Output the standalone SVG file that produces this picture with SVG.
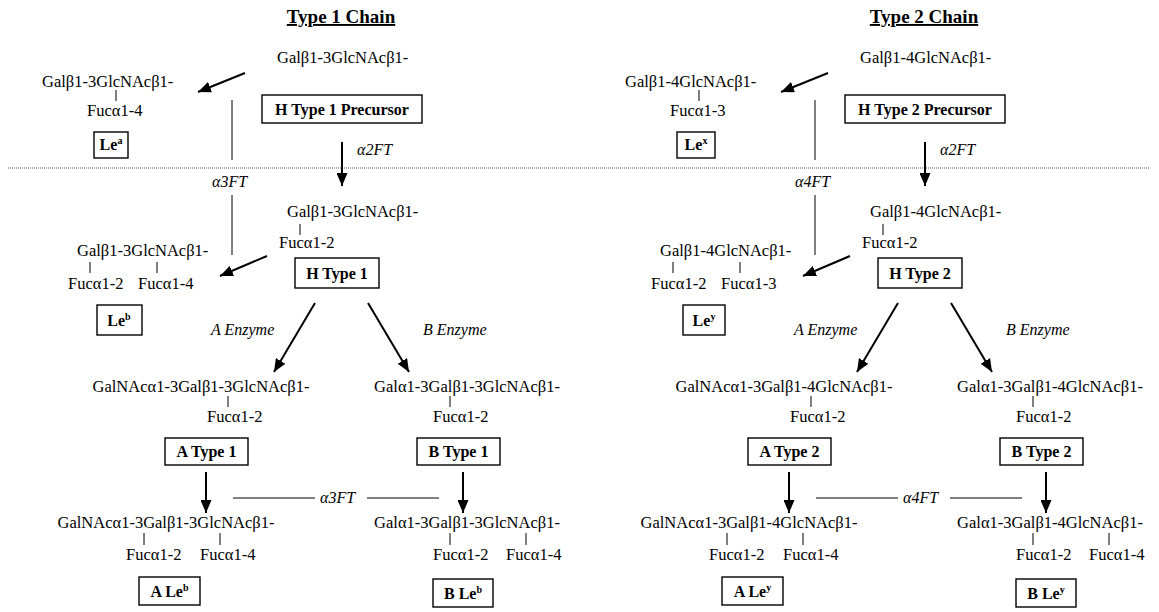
<svg xmlns="http://www.w3.org/2000/svg" width="1159" height="612" viewBox="0 0 1159 612" font-family="'Liberation Serif', serif">
<defs>
<marker id="ah" markerUnits="userSpaceOnUse" markerWidth="13" markerHeight="11" viewBox="0 0 13 11" refX="13" refY="5.5" orient="auto"><path d="M0,0 L13,5.5 L0,11 z" fill="#000"/></marker>
</defs>
<style>
text{font-family:'Liberation Serif',serif;fill:#000}
.s{font-size:16.5px}
.b{font-size:16px;font-weight:bold}
.i{font-size:16px;font-style:italic}
.t{font-size:19px;font-weight:bold;text-decoration:underline}
.m{text-anchor:middle}
.sup{font-size:10px}
.box{fill:#fff;stroke:#000;stroke-width:1.4}
.tk{stroke:#000;stroke-width:1}
.ar{stroke:#000;stroke-width:2;fill:none;marker-end:url(#ah)}
.ln{stroke:#000;stroke-width:1;fill:none}
.dot{stroke:#555;stroke-width:1;stroke-dasharray:1 1}
</style>
<rect width="1159" height="612" fill="#fff"/>

<g id="divider"><line class="dot" x1="8" y1="168" x2="1150" y2="168"/></g>

<g id="connectors-type1">
<line class="ar" x1="245" y1="73" x2="198" y2="92"/>
<line class="ln" x1="232" y1="100" x2="232" y2="160"/>
<line class="ln" x1="232" y1="195" x2="232" y2="255"/>
<text class="i" x="212" y="187">α3FT</text>
<line class="ar" x1="342" y1="142" x2="342" y2="186"/>
<text class="i" x="357" y="155">α2FT</text>
<line class="ar" x1="267" y1="256" x2="220" y2="276"/>
<line class="ar" x1="315" y1="303" x2="274" y2="372"/>
<line class="ar" x1="368" y1="303" x2="409" y2="372"/>
<text class="i" x="211" y="335">A Enzyme</text>
<text class="i" x="423" y="335">B Enzyme</text>
<line class="ar" x1="206" y1="472" x2="206" y2="513"/>
<line class="ar" x1="463" y1="472" x2="463" y2="513"/>
<line class="ln" x1="233" y1="498" x2="315" y2="498"/>
<text class="i" x="320" y="503">α3FT</text>
<line class="ln" x1="367" y1="498" x2="439" y2="498"/>
</g>

<g id="title-type1"><text class="t m" x="341" y="23">Type 1 Chain</text></g>

<g id="node-h-type1-precursor">
<text class="s" x="277" y="63">Galβ1-3GlcNAcβ1-</text>
<rect class="box" x="262" y="95" width="160" height="28"/>
<text class="b m" x="342" y="115">H Type 1 Precursor</text>
</g>

<g id="node-lea">
<text class="s" x="42" y="87">Galβ1-3GlcNAcβ1-</text>
<line class="tk" x1="116" y1="90" x2="116" y2="101"/>
<text class="s" x="87" y="116">Fucα1-4</text>
<rect class="box" x="94" y="132" width="34" height="26"/>
<text class="b m" x="111" y="150">Le<tspan class="sup" dy="-6">a</tspan></text>
</g>

<g id="node-h-type1">
<text class="s" x="287" y="217">Galβ1-3GlcNAcβ1-</text>
<line class="tk" x1="300" y1="224" x2="300" y2="235"/>
<text class="s" x="279" y="248">Fucα1-2</text>
<rect class="box" x="295" y="258" width="84" height="30"/>
<text class="b m" x="337" y="279">H Type 1</text>
</g>

<g id="node-leb">
<text class="s" x="77" y="256">Galβ1-3GlcNAcβ1-</text>
<line class="tk" x1="90" y1="262" x2="90" y2="273"/>
<line class="tk" x1="157" y1="262" x2="157" y2="273"/>
<text class="s" x="68" y="289">Fucα1-2</text>
<text class="s" x="138" y="289">Fucα1-4</text>
<rect class="box" x="97" y="305" width="45" height="30"/>
<text class="b m" x="119" y="326">Le<tspan class="sup" dy="-6">b</tspan></text>
</g>

<g id="node-a-type1">
<text class="s m" x="201" y="392">GalNAcα1-3Galβ1-3GlcNAcβ1-</text>
<line class="tk" x1="228" y1="396" x2="228" y2="407"/>
<text class="s" x="207" y="422">Fucα1-2</text>
<rect class="box" x="165" y="438" width="83" height="27"/>
<text class="b m" x="206.5" y="457">A Type 1</text>
</g>

<g id="node-b-type1">
<text class="s m" x="467" y="392">Galα1-3Galβ1-3GlcNAcβ1-</text>
<line class="tk" x1="450" y1="396" x2="450" y2="407"/>
<text class="s" x="433" y="422">Fucα1-2</text>
<rect class="box" x="417" y="438" width="83" height="27"/>
<text class="b m" x="458.5" y="457">B Type 1</text>
</g>

<g id="node-a-leb">
<text class="s m" x="166" y="528">GalNAcα1-3Galβ1-3GlcNAcβ1-</text>
<line class="tk" x1="144" y1="533" x2="144" y2="545"/>
<line class="tk" x1="220" y1="533" x2="220" y2="545"/>
<text class="s" x="126" y="560">Fucα1-2</text>
<text class="s" x="200" y="560">Fucα1-4</text>
<rect class="box" x="139" y="577" width="61" height="28"/>
<text class="b m" x="169.5" y="597">A Le<tspan class="sup" dy="-6">b</tspan></text>
</g>

<g id="node-b-leb">
<text class="s m" x="467" y="528">Galα1-3Galβ1-3GlcNAcβ1-</text>
<line class="tk" x1="450" y1="533" x2="450" y2="545"/>
<line class="tk" x1="526" y1="533" x2="526" y2="545"/>
<text class="s" x="433" y="560">Fucα1-2</text>
<text class="s" x="506" y="560">Fucα1-4</text>
<rect class="box" x="433" y="579" width="60" height="28"/>
<text class="b m" x="463" y="599">B Le<tspan class="sup" dy="-6">b</tspan></text>
</g>

<g id="connectors-type2">
<g transform="translate(583,0)">
<line class="ar" x1="245" y1="73" x2="198" y2="92"/>
<line class="ln" x1="232" y1="100" x2="232" y2="160"/>
<line class="ln" x1="232" y1="195" x2="232" y2="255"/>
<text class="i" x="212" y="187">α4FT</text>
<line class="ar" x1="342" y1="142" x2="342" y2="186"/>
<text class="i" x="357" y="155">α2FT</text>
<line class="ar" x1="267" y1="256" x2="220" y2="276"/>
<line class="ar" x1="315" y1="303" x2="274" y2="372"/>
<line class="ar" x1="368" y1="303" x2="409" y2="372"/>
<text class="i" x="211" y="335">A Enzyme</text>
<text class="i" x="423" y="335">B Enzyme</text>
<line class="ar" x1="206" y1="472" x2="206" y2="513"/>
<line class="ar" x1="463" y1="472" x2="463" y2="513"/>
<line class="ln" x1="233" y1="498" x2="315" y2="498"/>
<text class="i" x="320" y="503">α4FT</text>
<line class="ln" x1="367" y1="498" x2="439" y2="498"/>
</g>
</g>

<g transform="translate(583,0)">
<g id="title-type2"><text class="t m" x="341" y="23">Type 2 Chain</text></g>

<g id="node-h-type2-precursor">
<text class="s" x="277" y="63">Galβ1-4GlcNAcβ1-</text>
<rect class="box" x="262" y="95" width="160" height="28"/>
<text class="b m" x="342" y="115">H Type 2 Precursor</text>
</g>

<g id="node-lex">
<text class="s" x="42" y="87">Galβ1-4GlcNAcβ1-</text>
<line class="tk" x1="116" y1="90" x2="116" y2="101"/>
<text class="s" x="87" y="116">Fucα1-3</text>
<rect class="box" x="94" y="132" width="38" height="26"/>
<text class="b m" x="113" y="150">Le<tspan class="sup" dy="-6">x</tspan></text>
</g>

<g id="node-h-type2">
<text class="s" x="287" y="217">Galβ1-4GlcNAcβ1-</text>
<line class="tk" x1="300" y1="224" x2="300" y2="235"/>
<text class="s" x="279" y="248">Fucα1-2</text>
<rect class="box" x="295" y="258" width="84" height="30"/>
<text class="b m" x="337" y="279">H Type 2</text>
</g>

<g id="node-ley">
<text class="s" x="77" y="256">Galβ1-4GlcNAcβ1-</text>
<line class="tk" x1="90" y1="262" x2="90" y2="273"/>
<line class="tk" x1="157" y1="262" x2="157" y2="273"/>
<text class="s" x="68" y="289">Fucα1-2</text>
<text class="s" x="138" y="289">Fucα1-3</text>
<rect class="box" x="100" y="305" width="42" height="30"/>
<text class="b m" x="121" y="326">Le<tspan class="sup" dy="-6">y</tspan></text>
</g>

<g id="node-a-type2">
<text class="s m" x="201" y="392">GalNAcα1-3Galβ1-4GlcNAcβ1-</text>
<line class="tk" x1="228" y1="396" x2="228" y2="407"/>
<text class="s" x="207" y="422">Fucα1-2</text>
<rect class="box" x="165" y="438" width="83" height="27"/>
<text class="b m" x="206.5" y="457">A Type 2</text>
</g>

<g id="node-b-type2">
<text class="s m" x="467" y="392">Galα1-3Galβ1-4GlcNAcβ1-</text>
<line class="tk" x1="450" y1="396" x2="450" y2="407"/>
<text class="s" x="433" y="422">Fucα1-2</text>
<rect class="box" x="417" y="438" width="83" height="27"/>
<text class="b m" x="458.5" y="457">B Type 2</text>
</g>

<g id="node-a-ley">
<text class="s m" x="166" y="528">GalNAcα1-3Galβ1-4GlcNAcβ1-</text>
<line class="tk" x1="144" y1="533" x2="144" y2="545"/>
<line class="tk" x1="220" y1="533" x2="220" y2="545"/>
<text class="s" x="126" y="560">Fucα1-2</text>
<text class="s" x="200" y="560">Fucα1-4</text>
<rect class="box" x="139" y="577" width="61" height="28"/>
<text class="b m" x="169.5" y="597">A Le<tspan class="sup" dy="-6">y</tspan></text>
</g>

<g id="node-b-ley">
<text class="s m" x="467" y="528">Galα1-3Galβ1-4GlcNAcβ1-</text>
<line class="tk" x1="450" y1="533" x2="450" y2="545"/>
<line class="tk" x1="526" y1="533" x2="526" y2="545"/>
<text class="s" x="433" y="560">Fucα1-2</text>
<text class="s" x="506" y="560">Fucα1-4</text>
<rect class="box" x="433" y="579" width="60" height="28"/>
<text class="b m" x="463" y="599">B Le<tspan class="sup" dy="-6">y</tspan></text>
</g>
</g>
</svg>
